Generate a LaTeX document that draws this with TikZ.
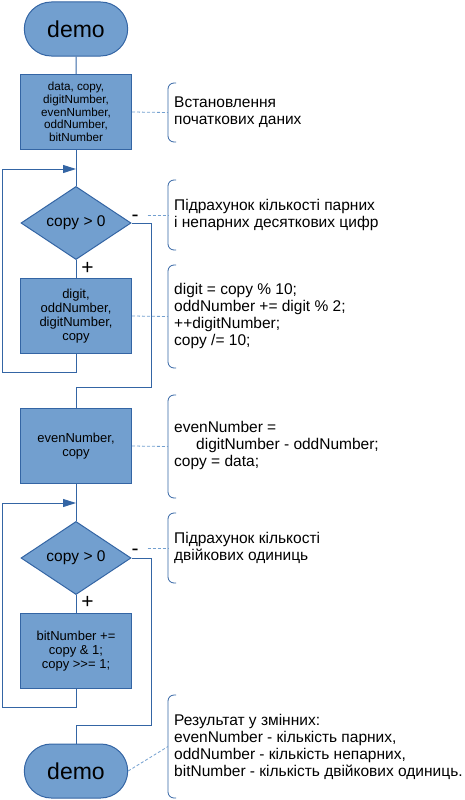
\documentclass[tikz,border=0pt]{standalone}
\usepackage{fontspec}
\setmainfont{Liberation Sans}
\usetikzlibrary{shapes.geometric,shapes.misc,arrows.meta}
\definecolor{boxfill}{HTML}{729FCF}
\definecolor{boxline}{HTML}{3465A4}
\tikzset{
    term/.style={rounded rectangle, draw=boxline, fill=boxfill, line width=1bp,
        minimum width=110bp, minimum height=54bp, font=\fontsize{23bp}{26bp}\selectfont},
    block/.style={draw=boxline, fill=boxfill, line width=1bp, minimum width=111bp,
        minimum height=75bp, inner sep=0pt, align=center, font=\fontsize{13bp}{14.2bp}\selectfont},
    cond/.style={diamond, draw=boxline, fill=boxfill, line width=1bp, minimum width=110bp,
        minimum height=73bp, inner sep=0pt, font=\fontsize{15.5bp}{17bp}\selectfont},
    flow/.style={draw=boxline, line width=1bp},
    note/.style={draw=boxfill, line width=0.8bp, dash pattern=on 3bp off 2bp},
    brace/.style={draw=boxline, line width=0.8bp, rounded corners=6bp},
    remark/.style={anchor=west, align=left, inner sep=0pt, font=\fontsize{15.5bp}{17bp}\selectfont},
    sign/.style={inner sep=1bp, font=\fontsize{21bp}{23bp}\selectfont},
}
\begin{document}
\begin{tikzpicture}[x=1bp, y=-1bp, >={Triangle[length=13bp,width=8bp]}]
    \useasboundingbox (0,0) rectangle (465,800);

    % Flowchart blocks:
    \node[term] (start) at (76,29) {demo};
    \node[block, font=\fontsize{11.7bp}{12.6bp}\selectfont] (init) at (76,112)
        {data, copy,\\digitNumber,\\evenNumber,\\oddNumber,\\bitNumber};
    \node[cond] (test1) at (76,223) {copy > 0};
    \node[block] (digits) at (76,316) {digit,\\oddNumber,\\digitNumber,\\copy};
    \node[block] (even) at (76,446) {evenNumber,\\copy};
    \node[cond] (test2) at (76,558) {copy > 0};
    \node[block] (bits) at (76,651) {bitNumber +=\\copy \& 1;\\copy >{}>= 1;};
    \node[term] (stop) at (76,771) {demo};

    % Branch signs:
    \node[sign] (no1) at (135,218.5) {-};
    \node[sign] (yes1) at (87.5,268.5) {+};
    \node[sign] (no2) at (135,552) {-};
    \node[sign] (yes2) at (87.5,602.5) {+};

    % Loop corners:
    \coordinate (join1) at (76,169);
    \coordinate (back1) at (2,372);
    \coordinate (exit1) at (151,387);
    \coordinate (join2) at (76,503);
    \coordinate (back2) at (2,707);
    \coordinate (exit2) at (151,725);

    % Connectors:
    \draw[flow] (start) -- (init);
    \draw[flow] (init) -- (test1);
    \draw[flow] (test1) -- (digits);
    \draw[flow,->] (digits) |- (back1) |- (join1);
    \draw[flow] (test1.east) -| (exit1) -| (even);
    \draw[flow] (even) -- (test2);
    \draw[flow] (test2) -- (bits);
    \draw[flow,->] (bits) |- (back2) |- (join2);
    \draw[flow] (test2.east) -| (exit2) -| (stop);

    % Comment brackets:
    \foreach \a/\b [count=\n] in {83/142,180/250,265/368,395/498,513/583,695/798}{%
        \draw[brace] (176,\a) -| (168,\b) -- (176,\b);
        \coordinate (mark\n) at (168,{(\a+\b)/2});
    }

    % Comments:
    \node[remark] (rem1) at (174,112) {Встановлення\\початкових даних};
    \node[remark] (rem2) at (174,215) {Підрахунок кількості парних\\і непарних десяткових цифр};
    \node[remark] (rem3) at (174,316) {digit = copy \% 10;\\oddNumber += digit \% 2;\\++digitNumber;\\copy /= 10;};
    \node[remark] (rem4) at (174,445) {evenNumber =\\\hspace*{22bp}digitNumber - oddNumber;\\copy = data;};
    \node[remark] (rem5) at (174,548) {Підрахунок кількості\\двійкових одиниць};
    \node[remark] (rem6) at (174,747) {Результат у змінних:\\evenNumber - кількість парних,\\oddNumber - кількість непарних,\\bitNumber - кількість двійкових одиниць.};

    % Dashed links to the comments:
    \draw[note] (no1.east |- mark2) ++(8,0) -- (mark2);
    \draw[note] (init.east) -- (mark1);
    \draw[note] (digits.east) -- (mark3);
    \draw[note] (even.east) -- (mark4);
    \draw[note] (no2.east |- mark5) ++(8,0) -- (mark5);
    \draw[note] (stop.east) -- (mark6);
\end{tikzpicture}
\end{document}
